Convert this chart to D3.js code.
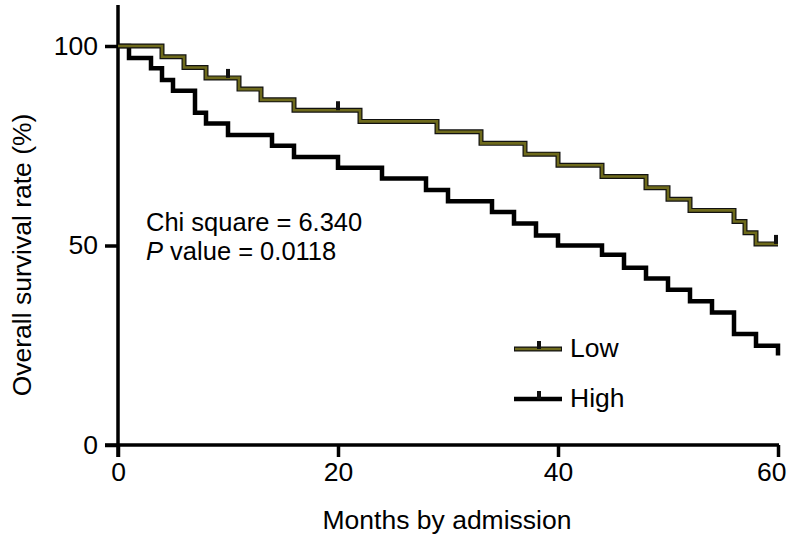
<!DOCTYPE html>
<html>
<head>
<meta charset="utf-8">
<script src="https://cdn.jsdelivr.net/npm/d3@7"></script>
<style>
  html, body { margin: 0; padding: 0; background: #fff; }
  svg { display: block; font-family: "Liberation Sans", Arial, sans-serif; }
</style>
</head>
<body>
<svg id="chart" width="787" height="540"></svg>
<script>
// ---- data ----
const lowMonths  = [0, 4, 6, 8, 11, 13, 16, 22, 29, 33, 37, 40, 44, 48, 50, 52, 56, 57, 58, 60];
const lowSurv    = [100, 97.3, 94.6, 92.0, 89.2, 86.5, 83.9, 81.1, 78.5, 75.6, 72.9, 70.1, 67.3, 64.5, 61.6, 58.8, 56.0, 53.2, 50.4, 50.4];
const lowCensor  = [10, 20, 60];

const highMonths = [0, 1, 3, 4, 5, 7, 8, 10, 14, 16, 20, 24, 28, 30, 34, 36, 38, 40, 44, 46, 48, 50, 52, 54, 56, 58, 60];
const highSurv   = [100, 97.0, 94.4, 91.5, 88.8, 83.3, 80.6, 77.7, 75.0, 72.2, 69.5, 66.8, 63.9, 61.1, 58.4, 55.5, 52.5, 50.0, 47.7, 44.4, 41.7, 38.9, 36.0, 33.2, 27.8, 24.9, 22.4];
const highCensor = [];

const xTicks = [0, 20, 40, 60];
const yTicks = [0, 50, 100];
const seriesNames = ["Low", "High"];
const xTitle = "Months by admission";
const yTitle = "Overall survival rate (%)";
const statLine1 = "Chi square = 6.340";
const statP = "P";
const statLine2 = " value = 0.0118";

// ---- styles ----
const olive = "#6e6a1c";
const fontSize = 26.5;
const statFont = 25.5;

const svg = d3.select("#chart");
const x = d3.scaleLinear().domain([0, 60]).range([118, 778]);
const y = d3.scaleLinear().domain([0, 100]).range([445, 46]);

function stepSeries(months, surv) {
  return months.map((m, i) => ({ m, s: surv[i] }));
}
function valueAt(months, surv, t) {
  let v = surv[0];
  for (let i = 0; i < months.length; i++) if (months[i] <= t) v = surv[i];
  return v;
}

const line = d3.line().x(d => x(d.m)).y(d => y(d.s)).curve(d3.curveStepAfter);

// ---- axes ----
const g = svg.append("g");
g.append("line").attr("x1", x(0)).attr("x2", x(0)).attr("y1", 5).attr("y2", y(0) + 12)
  .attr("stroke", "#000").attr("stroke-width", 3.5);
g.append("line").attr("x1", x(0) - 13).attr("x2", x(60) + 1).attr("y1", y(0)).attr("y2", y(0))
  .attr("stroke", "#000").attr("stroke-width", 3.5);

const yAxis = d3.axisLeft(y).tickValues(yTicks).tickSize(13).tickPadding(7).tickFormat(d3.format("d"));
const ya = svg.append("g").attr("transform", `translate(${x(0)},0)`).call(yAxis);
ya.select(".domain").remove();
ya.selectAll(".tick line").attr("stroke", "#000").attr("stroke-width", 3.5);
ya.selectAll(".tick text").attr("font-size", fontSize).attr("font-family", "Liberation Sans, Arial, sans-serif").attr("fill", "#000");

const xAxis = d3.axisBottom(x).tickValues(xTicks).tickSize(12).tickPadding(5).tickFormat(d3.format("d"));
const xa = svg.append("g").attr("transform", `translate(0,${y(0)})`).call(xAxis);
xa.select(".domain").remove();
xa.selectAll(".tick line").attr("stroke", "#000").attr("stroke-width", 3.5);
xa.selectAll(".tick text").attr("font-size", fontSize).attr("font-family", "Liberation Sans, Arial, sans-serif").attr("fill", "#000");
xa.selectAll(".tick text").filter(d => d === 60).attr("text-anchor", "end").attr("x", 8);

// titles
svg.append("text").attr("x", 447).attr("y", 529).attr("text-anchor", "middle")
  .attr("font-size", fontSize).text(xTitle);
svg.append("text").attr("transform", "translate(31,255) rotate(-90)").attr("text-anchor", "middle")
  .attr("font-size", fontSize).text(yTitle);

// ---- curves ----
function drawCurve(months, surv, censor, color) {
  const data = stepSeries(months, surv);
  if (color !== "#000") {
    svg.append("path").datum(data).attr("d", line).attr("fill", "none")
      .attr("stroke", "#111").attr("stroke-width", 5).attr("stroke-linejoin", "miter");
    svg.append("path").datum(data).attr("d", line).attr("fill", "none")
      .attr("stroke", color).attr("stroke-width", 2.6).attr("stroke-linejoin", "miter");
  } else {
    svg.append("path").datum(data).attr("d", line).attr("fill", "none")
      .attr("stroke", color).attr("stroke-width", 4.5).attr("stroke-linejoin", "miter");
  }
  svg.selectAll(null).data(censor).enter().append("line")
    .attr("x1", d => x(d) - (d === 60 ? 2 : 0)).attr("x2", d => x(d) - (d === 60 ? 2 : 0))
    .attr("y1", d => y(valueAt(months, surv, d)))
    .attr("y2", d => y(valueAt(months, surv, d)) - 9)
    .attr("stroke", "#111").attr("stroke-width", 4);
}
drawCurve(highMonths, highSurv, highCensor, "#000");
drawCurve(lowMonths, lowSurv, lowCensor, olive);

// ---- stats text ----
svg.append("text").attr("x", 146).attr("y", 231).attr("font-size", statFont).text(statLine1);
const t2 = svg.append("text").attr("x", 146).attr("y", 260).attr("font-size", statFont);
t2.append("tspan").attr("font-style", "italic").text(statP);
t2.append("tspan").text(statLine2);

// ---- legend ----
const legendY = [349, 399];
const legendColors = [olive, "#000"];
seriesNames.forEach((name, i) => {
  const ly = legendY[i];
  if (i === 0) {
    svg.append("line").attr("x1", 514).attr("x2", 562).attr("y1", ly).attr("y2", ly)
      .attr("stroke", "#111").attr("stroke-width", 5);
    svg.append("line").attr("x1", 515).attr("x2", 561).attr("y1", ly).attr("y2", ly)
      .attr("stroke", legendColors[i]).attr("stroke-width", 2.6);
  } else {
    svg.append("line").attr("x1", 514).attr("x2", 562).attr("y1", ly).attr("y2", ly)
      .attr("stroke", "#000").attr("stroke-width", 4.5);
  }
  svg.append("line").attr("x1", 539).attr("x2", 539).attr("y1", ly).attr("y2", ly - 8)
    .attr("stroke", "#111").attr("stroke-width", 4);
  svg.append("text").attr("x", 570).attr("y", ly + 8).attr("font-size", fontSize).text(name);
});
</script>
</body>
</html>
